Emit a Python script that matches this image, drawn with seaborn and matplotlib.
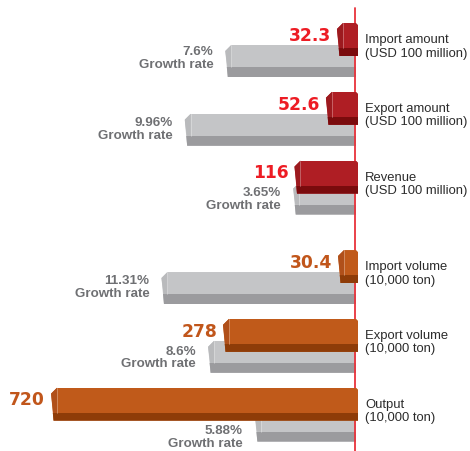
import numpy as np
import pandas as pd
import seaborn as sns
import matplotlib.pyplot as plt
from matplotlib.patches import Polygon
from matplotlib.transforms import IdentityTransform

# chart values
labels = ["Import amount\n(USD 100 million)",
          "Export amount\n(USD 100 million)",
          "Revenue\n(USD 100 million)",
          "Import volume\n(10,000 ton)",
          "Export volume\n(10,000 ton)",
          "Output\n(10,000 ton)"]
values = [32.3, 52.6, 116, 30.4, 278, 720]
value_text = ["32.3", "52.6", "116", "30.4", "278", "720"]
growth = [7.6, 9.96, 3.65, 11.31, 8.6, 5.88]
growth_text = ["7.6%", "9.96%", "3.65%", "11.31%", "8.6%", "5.88%"]
unit = ["usd", "usd", "usd", "ton", "ton", "ton"]

# layout
pos = [0, 1, 2, 3.3, 4.3, 5.3]
growth_dy = [-0.05, -0.02, 0.0, -0.02, 0.0, 0.16]
W, H = 470, 452
BASE_PX = 356
COL_BASE_PX = 358
GRAY_PX = 17.2          # px per percent
POW, COL_PX = 0.863, 1.05

RED, RED_D, RED_T = "#af1e24", "#7a0b0d", "#ed1c24"
ORA, ORA_D, ORA_T = "#c05a1a", "#8e3c08", "#c1561b"
GRAY, GRAY_D, GRAY_T = "#c4c5c7", "#9b9b9e", "#6f7073"
face = {"usd": RED, "ton": ORA}
dark = {"usd": RED_D, "ton": ORA_D}
txtc = {"usd": RED_T, "ton": ORA_T}

df = pd.DataFrame({"pos": pos, "value": values, "growth": growth, "unit": unit})
df["col_y"] = df["pos"] - 0.094
df["gray_y"] = df["pos"] + 0.218
COL_H, GRAY_H = 0.48, 0.465
COL_S, GRAY_S = 0.115, 0.145
df["col_sy"] = df["col_y"] + (COL_H - COL_S) / 2
df["gray_sy"] = df["gray_y"] + (GRAY_H - GRAY_S) / 2

sns.set_theme(style="white")
plt.rcParams["font.family"] = ["Liberation Sans", "DejaVu Sans"]

fig = plt.figure(figsize=(W / 100, H / 100), dpi=100)
ax = fig.add_axes([0, 0, 1, 1])
ax2 = ax.twiny()

# gray growth-rate bars
sns.barplot(data=df, x="growth", y="gray_y", orient="y", native_scale=True,
            width=GRAY_H, color=GRAY, saturation=1, linewidth=0,
            errorbar=None, ax=ax)
gray_faces = list(ax.patches)
sns.barplot(data=df, x="growth", y="gray_sy", orient="y", native_scale=True,
            width=GRAY_S, color=GRAY_D, saturation=1, linewidth=0,
            errorbar=None, ax=ax)
gray_strips = list(ax.patches)[len(gray_faces):]

# coloured value bars
sns.barplot(data=df, x="value", y="col_y", hue="unit", orient="y",
            native_scale=True, width=COL_H, palette=face, saturation=1,
            linewidth=0, errorbar=None, legend=False, ax=ax2)
col_faces = list(ax2.patches)
sns.barplot(data=df, x="value", y="col_sy", hue="unit", orient="y",
            native_scale=True, width=COL_S, palette=dark, saturation=1,
            linewidth=0, errorbar=None, legend=False, ax=ax2)
col_strips = list(ax2.patches)[len(col_faces):]

fwd = lambda v: np.sign(v) * np.abs(v) ** POW
inv = lambda t: np.sign(t) * np.abs(t) ** (1 / POW)
ax2.set_xscale("function", functions=(fwd, inv))

ax.set_xlim(BASE_PX / GRAY_PX, -(W - BASE_PX) / GRAY_PX)
ax2.set_xlim(inv(COL_BASE_PX / COL_PX), inv(-(W - COL_BASE_PX) / COL_PX))
ax.set_ylim(5.887, -0.683)
for a in (ax, ax2):
    a.set_axis_off()

# red baseline
ax.axvline((BASE_PX - 355) / GRAY_PX, ymin=0, ymax=(H - 9) / H,
           color="#e8333c", lw=1.3, zorder=5)


def bevel(a, faces, strips, cap_color, w=6, d=6):
    # cut the left end of each bar into a slanted 3D cap
    for fr, sr in zip(faces, strips):
        x0, y0 = a.transData.transform((fr.get_x() + fr.get_width(), fr.get_y()))
        x1, y1 = a.transData.transform((fr.get_x(), fr.get_y() + fr.get_height()))
        L, R = min(x0, x1), max(x0, x1)
        T, B = max(y0, y1), min(y0, y1)
        clip = Polygon([(R, T - 2), (R - 2, T), (L + w, T), (L, T - d),
                        (L + 2.5, B), (R, B)], closed=True,
                       transform=IdentityTransform())
        fr.set_clip_path(clip)
        sr.set_clip_path(clip)
        S = a.transData.transform((0, sr.get_y()))[1]
        cap = Polygon([(L, T - d), (L + w, T), (L + w, S), (L + 2.1, S)],
                      closed=True, transform=IdentityTransform(),
                      facecolor=cap_color, edgecolor="none", zorder=4)
        a.add_patch(cap)
        a.plot([L + w, L + w], [T, S], transform=IdentityTransform(),
               color="white", alpha=0.35, lw=0.6, zorder=4)


bevel(ax, gray_faces, gray_strips, "#b9babc")
bevel(ax2, col_faces[:3], col_strips[:3], "#9c1a1f")
bevel(ax2, col_faces[3:], col_strips[3:], "#b0501a")

# value labels
for v, t, y, u in zip(df["value"], value_text, df["col_y"], unit):
    ax2.annotate(t, xy=(v, y - 0.07), xytext=(-6, 0), textcoords="offset pixels",
                 ha="right", va="center", fontsize=12.3, fontweight="bold",
                 color=txtc[u], family="DejaVu Sans")

# growth labels
for g, t, y, dy in zip(df["growth"], growth_text, df["gray_y"], growth_dy):
    ax.annotate(t + "\nGrowth rate", xy=(g, y + dy), xytext=(-12, 0),
                textcoords="offset pixels", ha="right", va="center",
                multialignment="right", fontsize=9.6, fontweight="bold",
                color=GRAY_T, linespacing=1.05)

# category labels
for p, lab in zip(pos, labels):
    ax.text(365 / W, p, lab, transform=ax.get_yaxis_transform(), ha="left",
            va="center", fontsize=9.4, color="#2b2b2b", linespacing=1.15)

fig.savefig("out.png", dpi=100)
